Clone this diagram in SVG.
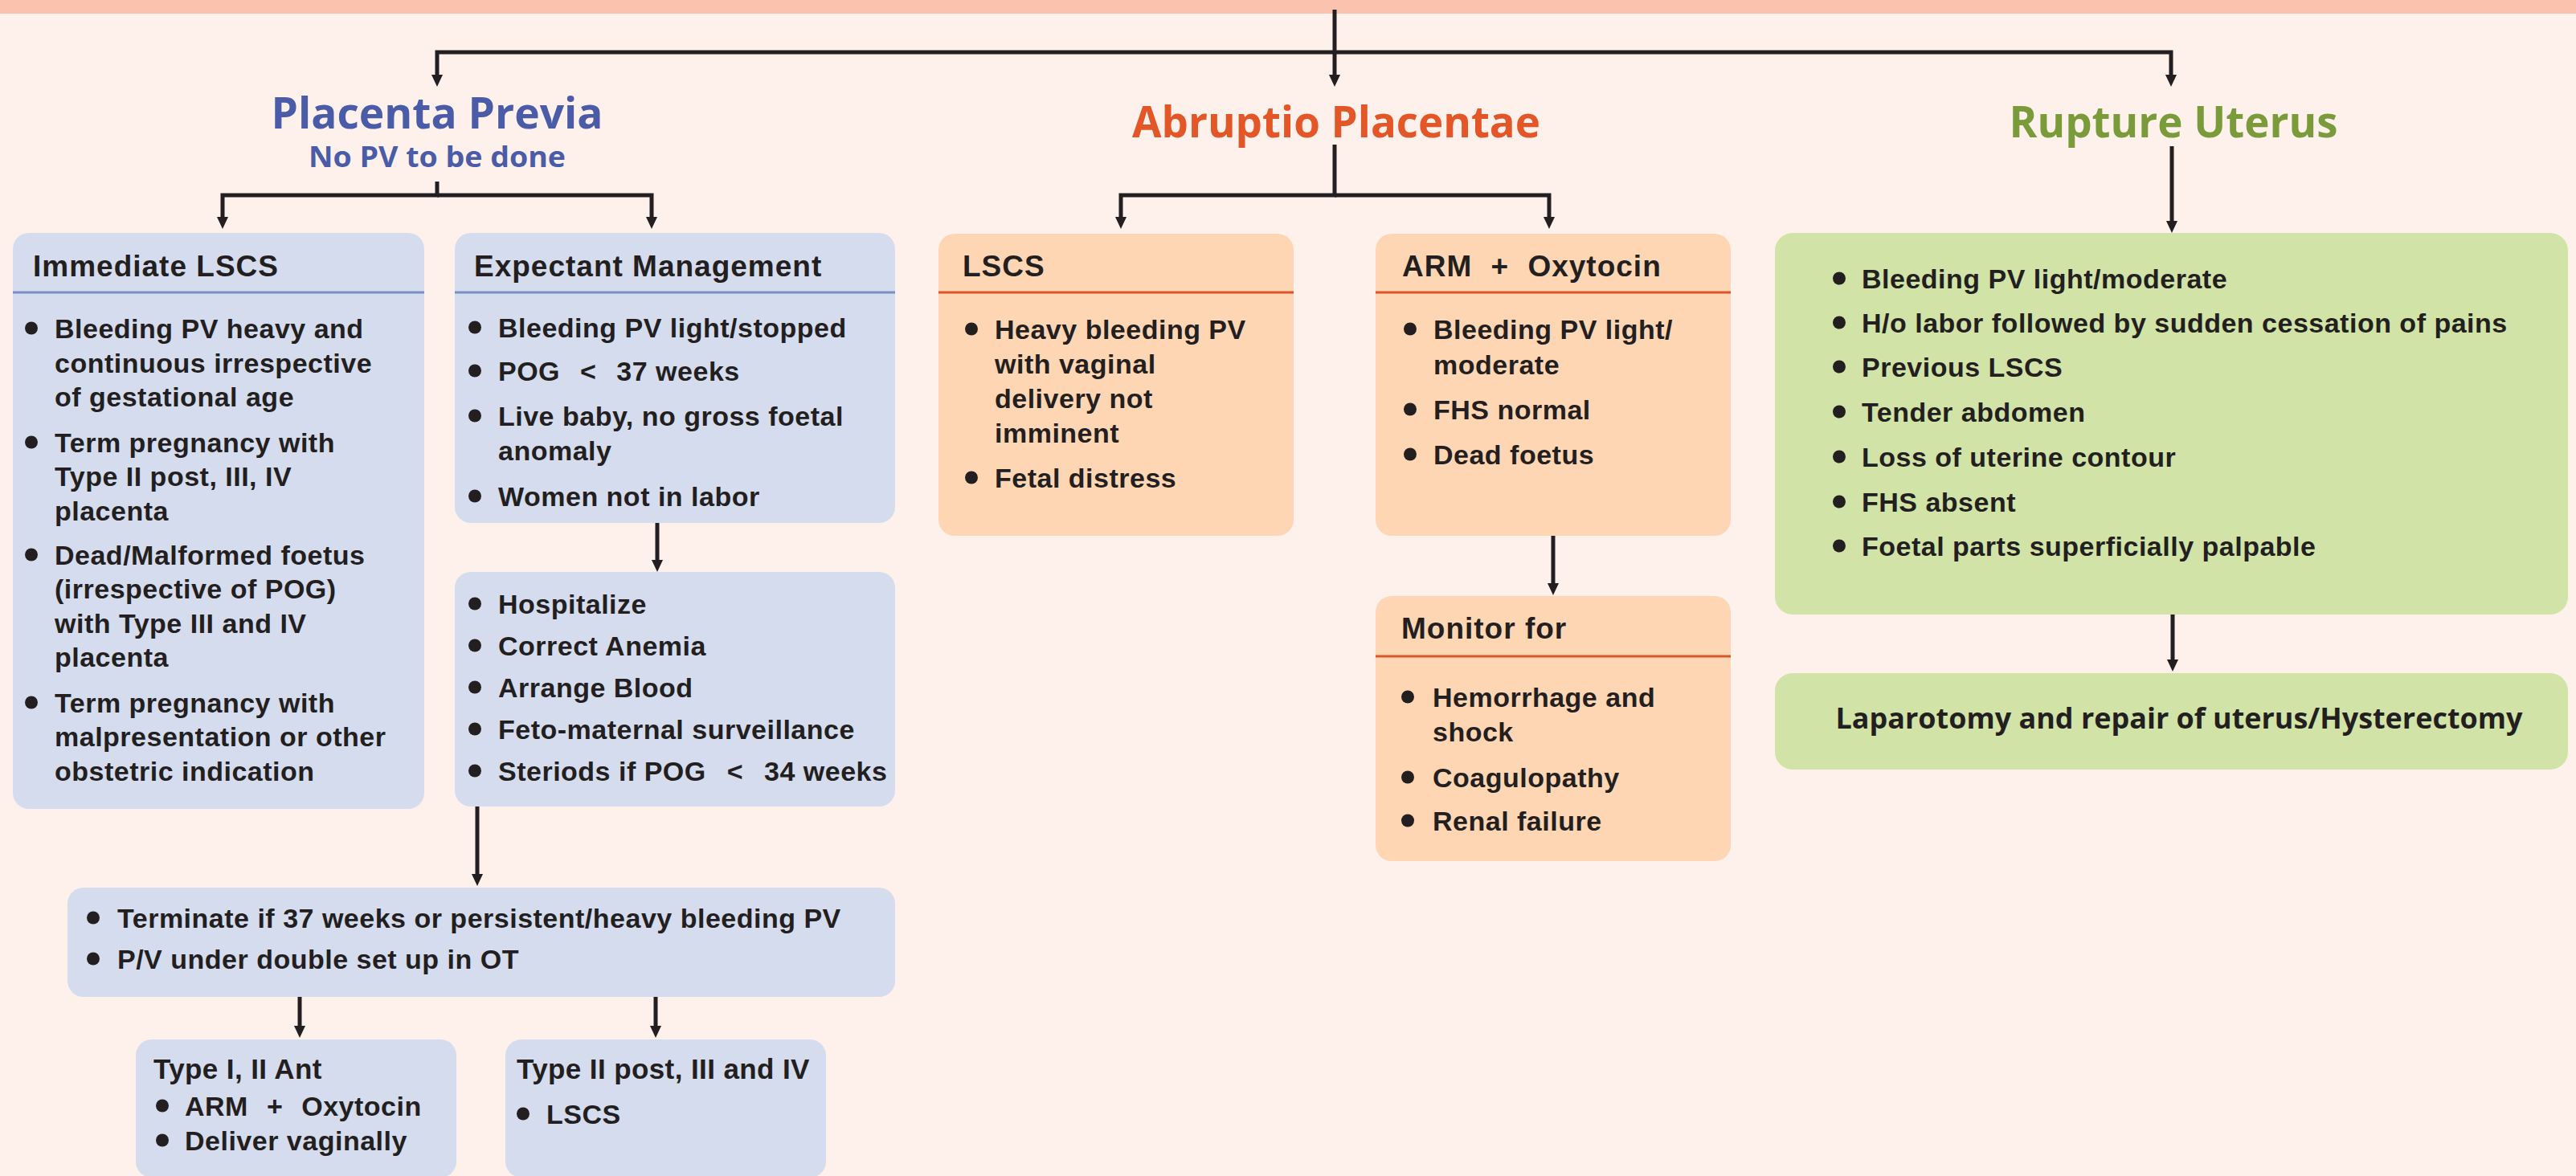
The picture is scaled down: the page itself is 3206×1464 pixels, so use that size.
<svg xmlns="http://www.w3.org/2000/svg" width="3206" height="1464" viewBox="0 0 3206 1464">
  <defs>
    <marker id="ah" markerUnits="userSpaceOnUse" markerWidth="15" markerHeight="14" viewBox="0 0 15 14" refX="2" refY="7" orient="auto">
      <path d="M0,0 L15,7 L0,14 z" fill="#231F20"/>
    </marker>
    <style>
      text { font-family: "Liberation Sans", Arial, Helvetica, sans-serif; font-weight: bold; fill: #231F20; font-size: 34px; letter-spacing: 0.5px; }
      .hd { font-size: 37px; letter-spacing: 1px; }
      .sm { font-size: 35px; letter-spacing: 0.4px; }
      .title { font-family: "Open Sans", "Liberation Sans", sans-serif; font-size: 54px; letter-spacing: 0; text-anchor: middle; }
      .sub { font-family: "Open Sans", "Liberation Sans", sans-serif; font-size: 36px; letter-spacing: 0; text-anchor: middle; }
      .blue-t { fill: #4A5BA8; }
      .orange-t { fill: #E25628; }
      .green-t { fill: #7A9B3A; }
      .bx-blue { fill: #D5DCEE; }
      .bx-peach { fill: #FFD6B4; }
      .bx-green { fill: #D1E3A6; }
      .sep-blue { stroke: #7D8DCA; stroke-width: 3; }
      .sep-peach { stroke: #D9562A; stroke-width: 3; }
      .dot { fill: #231F20; }
      .conn path { fill: none; stroke: #231F20; stroke-width: 5; stroke-linejoin: miter; marker-end: url(#ah); }
    </style>
  </defs>

  <!-- page background and top band -->
  <rect x="0" y="0" width="3206" height="1464" fill="#FEF0EB"/>
  <rect x="0" y="0" width="3206" height="17" fill="#FBC3AD"/>

  <!-- connectors -->
  <g id="connectors" class="conn">
    <path d="M1661,12 V95"/>
    <path d="M1661,65 H544 V95"/>
    <path d="M1661,65 H2702 V95"/>
    <path d="M544,226 V243 H277 V272"/>
    <path d="M544,243 H811 V272"/>
    <path d="M1661,180 V243 H1395 V272"/>
    <path d="M1661,243 H1928 V272"/>
    <path d="M2703,182 V277"/>
    <path d="M818,651 V699"/>
    <path d="M594,1004 V1090"/>
    <path d="M373,1241 V1279"/>
    <path d="M816,1241 V1279"/>
    <path d="M1933,667 V728"/>
    <path d="M2704,765 V823"/>
  </g>

  <!-- branch titles -->
  <g id="placenta-previa">
    <text class="title blue-t" x="544" y="160" textLength="413" lengthAdjust="spacingAndGlyphs">Placenta Previa</text>
    <text class="sub blue-t" x="544" y="208" textLength="320" lengthAdjust="spacingAndGlyphs">No PV to be done</text>
  </g>
  <g id="abruptio-placentae">
    <text class="title orange-t" x="1663" y="171" textLength="508" lengthAdjust="spacingAndGlyphs">Abruptio Placentae</text>
  </g>
  <g id="rupture-uterus">
    <text class="title green-t" x="2705" y="171" textLength="409" lengthAdjust="spacingAndGlyphs">Rupture Uterus</text>
  </g>

  <!-- Placenta previa branch -->
  <g id="immediate-lscs">
    <rect class="bx-blue" x="16" y="290" width="512" height="717" rx="20"/>
    <line class="sep-blue" x1="16" y1="364" x2="528" y2="364"/>
    <text class="hd" x="41" y="344">Immediate LSCS</text>
    <circle class="dot" cx="39" cy="408.5" r="8"/>
    <text x="68" y="421">Bleeding PV heavy and</text>
    <text x="68" y="464">continuous irrespective</text>
    <text x="68" y="506">of gestational age</text>
    <circle class="dot" cx="39" cy="550.5" r="8"/>
    <text x="68" y="563">Term pregnancy with</text>
    <text x="68" y="605">Type II post, III, IV</text>
    <text x="68" y="648">placenta</text>
    <circle class="dot" cx="39" cy="690.5" r="8"/>
    <text x="68" y="703">Dead/Malformed foetus</text>
    <text x="68" y="745">(irrespective of POG)</text>
    <text x="68" y="788">with Type III and IV</text>
    <text x="68" y="830">placenta</text>
    <circle class="dot" cx="39" cy="874.5" r="8"/>
    <text x="68" y="887">Term pregnancy with</text>
    <text x="68" y="929">malpresentation or other</text>
    <text x="68" y="972">obstetric indication</text>
  </g>

  <g id="expectant-management">
    <rect class="bx-blue" x="566" y="290" width="548" height="361" rx="20"/>
    <line class="sep-blue" x1="566" y1="364" x2="1114" y2="364"/>
    <text class="hd" x="590" y="344">Expectant Management</text>
    <circle class="dot" cx="591" cy="407.5" r="8"/>
    <text x="620" y="420">Bleeding PV light/stopped</text>
    <circle class="dot" cx="591" cy="461.5" r="8"/>
    <text x="620" y="474">POG <tspan dx="15">&lt;</tspan> <tspan dx="15">37</tspan> weeks</text>
    <circle class="dot" cx="591" cy="517.5" r="8"/>
    <text x="620" y="530">Live baby, no gross foetal</text>
    <text x="620" y="573">anomaly</text>
    <circle class="dot" cx="591" cy="617.5" r="8"/>
    <text x="620" y="630">Women not in labor</text>
  </g>

  <g id="expectant-care">
    <rect class="bx-blue" x="566" y="712" width="548" height="292" rx="20"/>
    <circle class="dot" cx="591" cy="751.5" r="8"/>
    <text x="620" y="764">Hospitalize</text>
    <circle class="dot" cx="591" cy="803.5" r="8"/>
    <text x="620" y="816">Correct Anemia</text>
    <circle class="dot" cx="591" cy="855.5" r="8"/>
    <text x="620" y="868">Arrange Blood</text>
    <circle class="dot" cx="591" cy="907.5" r="8"/>
    <text x="620" y="920">Feto-maternal surveillance</text>
    <circle class="dot" cx="591" cy="959.5" r="8"/>
    <text x="620" y="972">Steriods if POG <tspan dx="16">&lt;</tspan> <tspan dx="16">34</tspan> weeks</text>
  </g>

  <g id="terminate">
    <rect class="bx-blue" x="84" y="1105" width="1030" height="136" rx="20"/>
    <circle class="dot" cx="116" cy="1142.5" r="8"/>
    <text x="146" y="1155">Terminate if 37 weeks or persistent/heavy bleeding PV</text>
    <circle class="dot" cx="116" cy="1193.5" r="8"/>
    <text x="146" y="1206">P/V under double set up in OT</text>
  </g>

  <g id="type-i-ii-ant">
    <rect class="bx-blue" x="169" y="1294" width="399" height="172" rx="20"/>
    <text class="sm" x="191" y="1343">Type I, II Ant</text>
    <circle class="dot" cx="202" cy="1376.5" r="8"/>
    <text x="230" y="1389">ARM <tspan dx="13">+</tspan> <tspan dx="13">Oxytocin</tspan></text>
    <circle class="dot" cx="202" cy="1419.5" r="8"/>
    <text x="230" y="1432">Deliver vaginally</text>
  </g>

  <g id="type-ii-post">
    <rect class="bx-blue" x="629" y="1294" width="399" height="172" rx="20"/>
    <text class="sm" x="643" y="1343">Type II post, III and IV</text>
    <circle class="dot" cx="651" cy="1386.5" r="8"/>
    <text x="680" y="1399">LSCS</text>
  </g>

  <!-- Abruptio placentae branch -->
  <g id="ap-lscs">
    <rect class="bx-peach" x="1168" y="291" width="442" height="376" rx="20"/>
    <line class="sep-peach" x1="1168" y1="364" x2="1610" y2="364"/>
    <text class="hd" x="1198" y="344">LSCS</text>
    <circle class="dot" cx="1209" cy="409.5" r="8"/>
    <text x="1238" y="422">Heavy bleeding PV</text>
    <text x="1238" y="465">with vaginal</text>
    <text x="1238" y="508">delivery not</text>
    <text x="1238" y="551">imminent</text>
    <circle class="dot" cx="1209" cy="594.5" r="8"/>
    <text x="1238" y="607">Fetal distress</text>
  </g>

  <g id="ap-arm-oxytocin">
    <rect class="bx-peach" x="1712" y="291" width="442" height="376" rx="20"/>
    <line class="sep-peach" x1="1712" y1="364" x2="2154" y2="364"/>
    <text class="hd" x="1745" y="344">ARM <tspan dx="12">+</tspan> <tspan dx="12">Oxytocin</tspan></text>
    <circle class="dot" cx="1755" cy="409.5" r="8"/>
    <text x="1784" y="422">Bleeding PV light/</text>
    <text x="1784" y="466">moderate</text>
    <circle class="dot" cx="1755" cy="509.5" r="8"/>
    <text x="1784" y="522">FHS normal</text>
    <circle class="dot" cx="1755" cy="565.5" r="8"/>
    <text x="1784" y="578">Dead foetus</text>
  </g>

  <g id="ap-monitor">
    <rect class="bx-peach" x="1712" y="742" width="442" height="330" rx="20"/>
    <line class="sep-peach" x1="1712" y1="817" x2="2154" y2="817"/>
    <text class="hd" x="1744" y="795">Monitor for</text>
    <circle class="dot" cx="1752" cy="867.5" r="8"/>
    <text x="1783" y="880">Hemorrhage and</text>
    <text x="1783" y="923">shock</text>
    <circle class="dot" cx="1752" cy="967.5" r="8"/>
    <text x="1783" y="980">Coagulopathy</text>
    <circle class="dot" cx="1752" cy="1021.5" r="8"/>
    <text x="1783" y="1034">Renal failure</text>
  </g>

  <!-- Rupture uterus branch -->
  <g id="ru-signs">
    <rect class="bx-green" x="2209" y="290" width="987" height="475" rx="22"/>
    <circle class="dot" cx="2289" cy="346.5" r="8"/>
    <text x="2317" y="359">Bleeding PV light/moderate</text>
    <circle class="dot" cx="2289" cy="401.5" r="8"/>
    <text x="2317" y="414">H/o labor followed by sudden cessation of pains</text>
    <circle class="dot" cx="2289" cy="456.5" r="8"/>
    <text x="2317" y="469">Previous LSCS</text>
    <circle class="dot" cx="2289" cy="512.5" r="8"/>
    <text x="2317" y="525">Tender abdomen</text>
    <circle class="dot" cx="2289" cy="568.5" r="8"/>
    <text x="2317" y="581">Loss of uterine contour</text>
    <circle class="dot" cx="2289" cy="624.5" r="8"/>
    <text x="2317" y="637">FHS absent</text>
    <circle class="dot" cx="2289" cy="679.5" r="8"/>
    <text x="2317" y="692">Foetal parts superficially palpable</text>
  </g>

  <g id="ru-surgery">
    <rect class="bx-green" x="2209" y="838" width="987" height="120" rx="22"/>
    <text class="sub" x="2712" y="907" style="fill:#231F20" textLength="855" lengthAdjust="spacingAndGlyphs">Laparotomy and repair of uterus/Hysterectomy</text>
  </g>
</svg>
